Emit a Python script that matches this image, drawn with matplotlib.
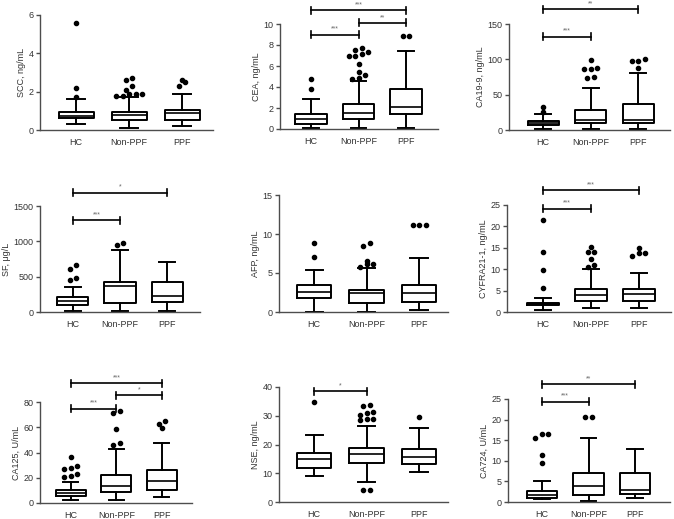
import numpy as np
import matplotlib
matplotlib.use('Agg')
import matplotlib.pyplot as plt

plt.rcParams['font.family'] = ['Liberation Sans', 'DejaVu Sans']

groups = ['HC', 'Non-PPF', 'PPF']

# box stats per group: [whisker low, q1, median, q3, whisker high]
scc_box = [[0.3, 0.62, 0.75, 0.95, 1.6], [0.1, 0.52, 0.8, 0.96, 1.7], [0.2, 0.5, 0.87, 1.04, 1.9]]
scc_out = [[1.7, 2.2, 5.6], [1.8, 1.8, 1.9, 1.9, 1.9, 2.1, 2.3, 2.6, 2.7], [2.3, 2.5, 2.6]]

cea_box = [[0.05, 0.5, 1.0, 1.42, 2.88], [0.05, 0.95, 1.52, 2.37, 4.56], [0.05, 1.42, 2.09, 3.83, 7.47]]
cea_out = [[3.8, 4.75], [4.8, 4.9, 5.1, 5.4, 6.2, 7.0, 7.0, 7.1, 7.3, 7.5, 7.7], [8.9, 8.9]]

ca199_box = [[1.0, 7.1, 10.4, 13.2, 22.4], [2.0, 9.5, 14.5, 28.6, 59.5], [2.0, 9.5, 14.0, 36.7, 81.0]]
ca199_out = [[26.0, 32.0], [73.0, 74.8, 87.0, 87.0, 88.0, 98.6], [88.0, 97.6, 97.6, 100.0]]

sf_box = [[10, 95, 156, 213, 355], [10, 128, 364, 426, 875], [10, 142, 227, 426, 710]]
sf_out = [[450, 487, 615, 662], [946, 970], []]

afp_box = [[0.05, 1.8, 2.57, 3.43, 5.44], [0.05, 1.2, 2.49, 2.87, 5.7], [0.3, 1.24, 2.44, 3.43, 6.86]]
afp_out = [[7.07, 8.87], [5.8, 6.1, 6.1, 6.6, 8.4, 8.8], [11.1, 11.2, 11.2]]

cyfra_box = [[0.55, 1.56, 1.87, 2.1, 3.36], [1.0, 2.5, 4.06, 5.47, 10.0], [1.0, 2.58, 4.14, 5.47, 9.0]]
cyfra_out = [[5.6, 9.8, 14.06, 21.6], [10.5, 10.9, 12.3, 14.0, 14.0, 15.2], [13.0, 13.8, 13.8, 15.0]]

ca125_box = [[2.1, 5.5, 7.9, 10.0, 16.4], [2.6, 8.7, 13.5, 22.4, 43.0], [4.7, 10.6, 17.7, 25.9, 47.5]]
ca125_out = [[20.6, 21.1, 23.2, 27.0, 27.7, 29.0, 36.4], [46.2, 47.8, 58.8, 71.5, 72.5], [59.6, 62.8, 64.6]]

nse_box = [[9.2, 11.8, 15.1, 16.9, 23.3], [7.1, 13.7, 16.6, 18.7, 26.4], [10.3, 13.1, 15.8, 18.6, 25.6]]
nse_out = [[34.8], [4.2, 4.3, 28.5, 28.8, 29.0, 30.2, 31.0, 31.4, 33.5, 33.7], [29.4]]

ca724_box = [[0.7, 0.97, 1.8, 2.7, 5.2], [0.2, 1.77, 3.8, 7.0, 15.5], [0.97, 1.94, 3.0, 7.0, 12.8]]
ca724_out = [[9.4, 11.3, 15.5, 16.4, 16.4], [20.7, 20.7], []]

# significance brackets: (group i, group j, y value, label)
cea_sig = [(0, 1, 9.0, '***'), (1, 2, 10.1, '**'), (0, 2, 11.3, '***')]
ca199_sig = [(0, 1, 132, '***'), (0, 2, 171, '**')]
sf_sig = [(0, 1, 1301, '***'), (0, 2, 1690, '*')]
cyfra_sig = [(0, 1, 24.1, '***'), (0, 2, 28.4, '***')]
ca125_sig = [(0, 1, 74.7, '***'), (1, 2, 85.2, '*'), (0, 2, 95, '***')]
nse_sig = [(0, 1, 38.6, '*')]
ca724_sig = [(0, 1, 24.3, '***'), (0, 2, 28.6, '**')]

panels = [
    ('SCC, ng/mL', scc_box, scc_out, [], [0, 2, 4, 6]),
    ('CEA, ng/mL', cea_box, cea_out, cea_sig, [0, 2, 4, 6, 8, 10]),
    ('CA19-9, ng/mL', ca199_box, ca199_out, ca199_sig, [0, 50, 100, 150]),
    ('SF, \u03bcg/L', sf_box, sf_out, sf_sig, [0, 500, 1000, 1500]),
    ('AFP, ng/mL', afp_box, afp_out, [], [0, 5, 10, 15]),
    ('CYFRA21-1, ng/mL', cyfra_box, cyfra_out, cyfra_sig, [0, 5, 10, 15, 20, 25]),
    ('CA125, U/mL', ca125_box, ca125_out, ca125_sig, [0, 20, 40, 60, 80]),
    ('NSE, ng/mL', nse_box, nse_out, nse_sig, [0, 10, 20, 30, 40]),
    ('CA724, U/mL', ca724_box, ca724_out, ca724_sig, [0, 5, 10, 15, 20, 25]),
]

# axes rectangles in pixels: left, right, top, bottom
rects_px = [
    (40, 213, 15, 130), (280, 438, 24, 129), (509, 670, 24, 130),
    (40, 200, 206, 312), (279, 448, 195, 312), (507, 671, 205, 312),
    (40, 192, 402, 503), (279, 448, 387, 502), (508, 670, 399, 502),
]
xlims = [(0.32, 3.58), (0.35, 3.67), (0.28, 3.67),
         (0.30, 3.70), (0.33, 3.55), (0.25, 3.67),
         (0.32, 3.66), (0.33, 3.55), (0.27, 3.75)]

W, H = 674, 519
fig = plt.figure(figsize=(W / 100, H / 100), dpi=100)

axis_col = '#4d4d4d'
text_col = '#333333'


def dodge(vals, ppu_y, ppu_x, step_px=6.5, near_px=4.0):
    # spread outliers with close values side by side
    vals = sorted(vals)
    xs, ys = [], []
    i = 0
    while i < len(vals):
        grp = [vals[i]]
        j = i + 1
        while j < len(vals) and (vals[j] - vals[i]) * ppu_y < near_px:
            grp.append(vals[j])
            j += 1
        n = len(grp)
        for k, v in enumerate(grp):
            xs.append((k - (n - 1) / 2) * step_px / ppu_x)
            ys.append(v)
        i = j
    return xs, ys


for (ylabel, box, out, sig, yticks), (l, r, t, b), xl in zip(panels, rects_px, xlims):
    ax = fig.add_axes([l / W, 1 - b / H, (r - l) / W, (b - t) / H])
    stats = []
    for g, s in zip(groups, box):
        stats.append(dict(label=g, whislo=s[0], q1=s[1], med=s[2], q3=s[3], whishi=s[4], fliers=[]))
    ax.bxp(stats, positions=[1, 2, 3], widths=0.66, patch_artist=False, showfliers=False,
           boxprops=dict(color='black', linewidth=1.4),
           medianprops=dict(color='black', linewidth=1.2),
           whiskerprops=dict(color='black', linewidth=1.4),
           capprops=dict(color='black', linewidth=1.4),
           capwidths=0.33)
    ymax = yticks[-1]
    ax.set_xlim(*xl)
    ax.set_ylim(0, ymax)
    ppu_y = (b - t) / ymax
    ppu_x = (r - l) / (xl[1] - xl[0])
    for pos, o in zip([1, 2, 3], out):
        dx, dy = dodge(o, ppu_y, ppu_x)
        ax.plot([pos + d for d in dx], dy, 'o', color='black', markersize=3.0, clip_on=False)

    # significance brackets
    tick_h = 3.5 / ppu_y
    for i, j, yv, lab in sig:
        x1, x2 = i + 1, j + 1
        ax.plot([x1, x2], [yv, yv], color='black', lw=1.2, clip_on=False)
        ax.plot([x1, x1], [yv - tick_h, yv + tick_h], color='black', lw=1.2, clip_on=False)
        ax.plot([x2, x2], [yv - tick_h, yv + tick_h], color='black', lw=1.2, clip_on=False)
        ax.text((x1 + x2) / 2, yv + 2.0 / ppu_y, lab, ha='center', va='bottom',
                fontsize=5, color='#666666', clip_on=False)

    ax.set_yticks(yticks)
    ax.set_xticks([1, 2, 3])
    ax.set_xticklabels(groups)
    ax.spines['top'].set_visible(False)
    ax.spines['right'].set_visible(False)
    for sp in ['left', 'bottom']:
        ax.spines[sp].set_color(axis_col)
        ax.spines[sp].set_linewidth(1.0)
    ax.tick_params(axis='y', length=3, width=1.0, color=axis_col, labelsize=6.5, labelcolor=text_col, pad=1.5)
    ax.tick_params(axis='x', length=0, labelsize=6.5, labelcolor=text_col, pad=6)
    ax.set_ylabel(ylabel, fontsize=6.5, color=text_col, labelpad=2)

fig.savefig('out.png', dpi=100)
